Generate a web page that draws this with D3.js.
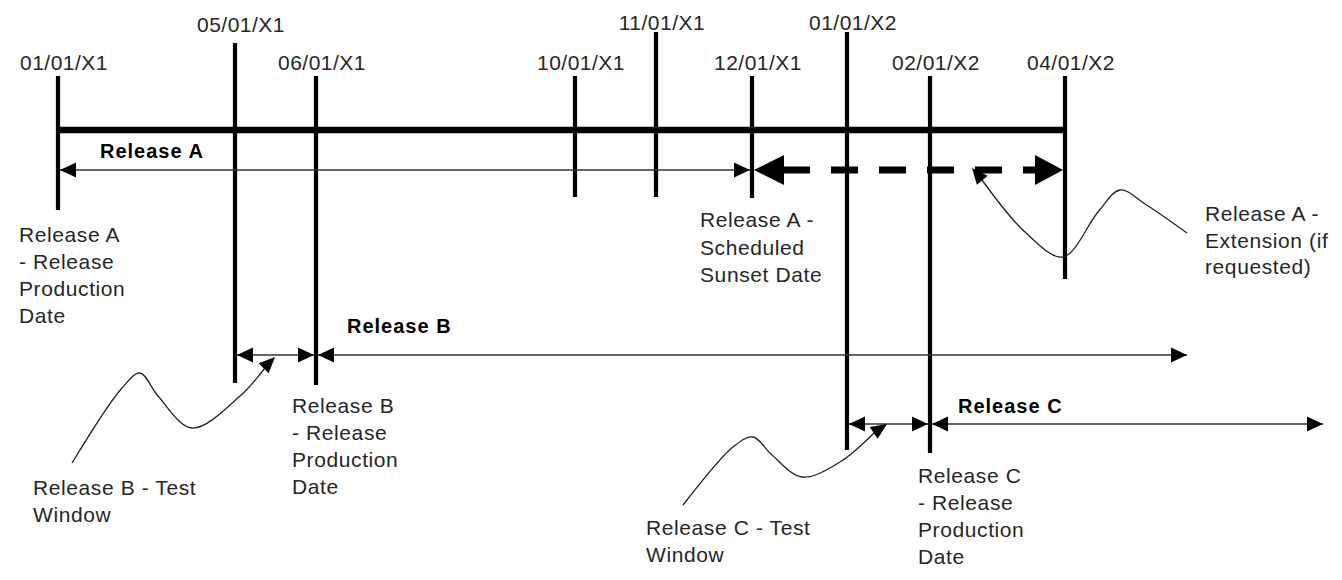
<!DOCTYPE html>
<html><head><meta charset="utf-8">
<script src="https://cdn.jsdelivr.net/npm/d3@7"></script>
<style>
html,body{margin:0;padding:0;background:#fff;}
svg{display:block;}
text{font-family:"Liberation Sans",Arial,sans-serif;}
</style></head>
<body>
<svg id="chart" width="1342" height="580"></svg>
<script>
// ---------- DATA ----------
const dateLabels = ["01/01/X1","05/01/X1","06/01/X1","10/01/X1","11/01/X1","12/01/X1","01/01/X2","02/01/X2","04/01/X2"];
const monthIndex = [0, 4, 5, 9, 10, 11, 12, 13, 15];
const releaseNames = ["Release A", "Release B", "Release C"];
const releaseProdMonth = [0, 5, 13];        // production dates
const releaseSunsetMonth = [11, null, null]; // scheduled sunset (null = open ended)
const extensionEndMonth = [15, null, null];  // extension if requested
const testStartMonth = [null, 4, 12];        // test window start
const prodNotes = [
  ["Release A", "- Release", "Production", "Date"],
  ["Release B", "- Release", "Production", "Date"],
  ["Release C", "- Release", "Production", "Date"]
];
const testNotes = [null, ["Release B - Test", "Window"], ["Release C - Test", "Window"]];
const sunsetNote = ["Release A -", "Scheduled", "Sunset Date"];
const extensionNote = ["Release A -", "Extension (if", "requested)"];

// ---------- LAYOUT ----------
const xRange = [58, 235, 316, 575, 656, 752, 847, 930, 1065];
const x = d3.scaleLinear().domain(monthIndex).range(xRange);
const tickTop =    [76, 43, 76, 76, 32, 76, 32, 76, 76];
const tickBottom = [210, 383, 385, 197, 197, 198, 450, 453, 279];
const labelBase =  [70, 32, 70, 70, 30, 70, 30, 70, 70];
const mainY = 130;
const rowY = [170, 355, 424];
const openEndX = [null, 1187, 1323];
const nameBase = [158, 333, 413];
const nameDx = [42, 31, 28];
const prodNotePos = [[19, 242], [292, 413], [918, 483]];
const testNotePos = [null, [33, 495], [646, 535]];
const LH = 27;
const TXT = "#262626";

const svg = d3.select("#chart");
svg.append("rect").attr("width",1342).attr("height",580).attr("fill","#fff");

function head(g, tx, ty, ang, len, hw) {
  const c = Math.cos(ang), s = Math.sin(ang);
  const bx = tx - len*c, by = ty - len*s;
  const p = [[tx,ty],[bx - hw*s, by + hw*c],[bx + hw*s, by - hw*c]];
  g.append("path").attr("d", "M" + p.map(q=>q.join(",")).join("L") + "Z").attr("fill","#000");
}
function thinArrow(g, x1, x2, y, both) {
  g.append("line").attr("x1",x1).attr("x2",x2).attr("y1",y).attr("y2",y)
    .attr("stroke","#333").attr("stroke-width",1.6);
  if (both) head(g, x1, y, Math.PI, 16, 7.5);
  head(g, x2, y, 0, 16, 7.5);
}
function textBlock(g, lines, px, py, opts) {
  const t = g.append("text").attr("x",px).attr("y",py)
    .attr("font-size",(opts&&opts.size)||21).attr("fill",TXT)
    .attr("letter-spacing",0.6);
  lines.forEach((l,i)=>t.append("tspan").attr("x",px).attr("y",py + i*((opts&&opts.lh)||LH)).text(l));
}

const g = svg.append("g");

// main horizontal timeline
g.append("line").attr("x1",x(monthIndex[0])).attr("x2",x(monthIndex[monthIndex.length-1]))
  .attr("y1",mainY).attr("y2",mainY).attr("stroke","#000").attr("stroke-width",6.5);

// vertical date ticks
monthIndex.forEach((m,i)=>{
  g.append("line").attr("x1",x(m)).attr("x2",x(m)).attr("y1",tickTop[i]).attr("y2",tickBottom[i])
    .attr("stroke","#000").attr("stroke-width",4.2);
  g.append("text").attr("x",x(m)+6).attr("y",labelBase[i]).attr("text-anchor","middle")
    .attr("font-size",21).attr("fill",TXT).attr("letter-spacing",0.5).text(dateLabels[i]);
});

// releases
releaseNames.forEach((name,i)=>{
  const y = rowY[i];
  const xs = x(releaseProdMonth[i]);
  const xe = releaseSunsetMonth[i] != null ? x(releaseSunsetMonth[i]) - 2 : openEndX[i];
  thinArrow(g, xs + 2, xe, y, true);
  g.append("text").attr("x", xs + nameDx[i]).attr("y", nameBase[i]).attr("font-size",20)
    .attr("font-weight","bold").attr("letter-spacing",1).attr("fill","#000").text(name);
  // test window
  if (testStartMonth[i] != null) {
    const ts = x(testStartMonth[i]) + 2, te = xs - 2;
    g.append("line").attr("x1",ts).attr("x2",te).attr("y1",y).attr("y2",y)
      .attr("stroke","#333").attr("stroke-width",1.6);
    head(g, ts, y, Math.PI, 16, 7.5);
    head(g, te, y, 0, 16, 7.5);
  }
  // extension
  if (extensionEndMonth[i] != null) {
    const es = x(releaseSunsetMonth[i]) + 2, ee = x(extensionEndMonth[i]) - 2;
    g.append("line").attr("x1",es + 29).attr("x2",ee - 27).attr("y1",y).attr("y2",y)
      .attr("stroke","#000").attr("stroke-width",7).attr("stroke-dasharray","27,21");
    head(g, es, y, Math.PI, 30, 15);
    head(g, ee, y, 0, 28, 15);
  }
  textBlock(g, prodNotes[i], prodNotePos[i][0], prodNotePos[i][1]);
  if (testNotes[i]) textBlock(g, testNotes[i], testNotePos[i][0], testNotePos[i][1]);
});

textBlock(g, sunsetNote, 700, 227, {lh:27.5});
textBlock(g, extensionNote, 1205, 221, {lh:26.5});

// callout leader curves (annotation shapes)
const leaders = [
  {tip:[275,357], pts:[[268,364],[240,396],[192,428],[158,396],[140,373],[122,388],[72,463]]},
  {tip:[887,424], pts:[[875,432],[840,462],[802,477],[772,455],[753,437],[733,447],[683,505]]},
  {tip:[972,168], pts:[[982,180],[1025,232],[1063,257],[1098,212],[1120,190],[1145,204],[1187,233]]}
];
const lineGen = d3.line().curve(d3.curveCatmullRom.alpha(0.5));
leaders.forEach(L=>{
  g.append("path").attr("d", lineGen(L.pts)).attr("fill","none").attr("stroke","#222").attr("stroke-width",1.3);
  const a = Math.atan2(L.tip[1]-L.pts[0][1], L.tip[0]-L.pts[0][0]);
  head(g, L.tip[0], L.tip[1], a, 16, 7);
});
</script>
</body></html>
